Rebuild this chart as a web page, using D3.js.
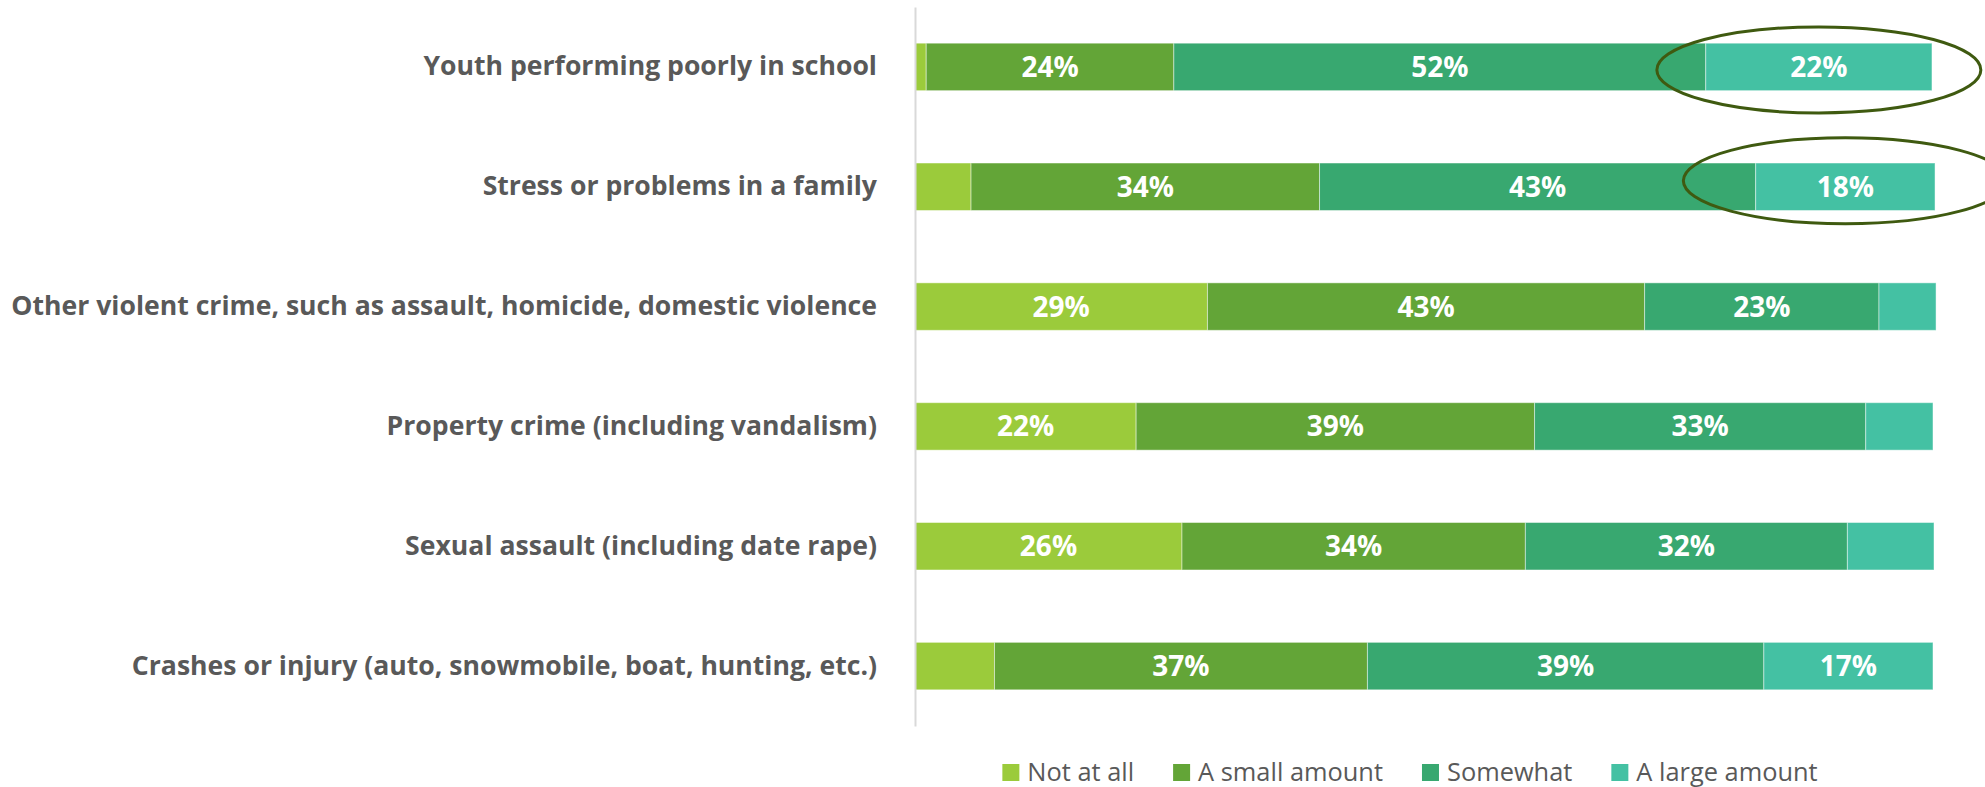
<!DOCTYPE html>
<html>
<head>
<meta charset="utf-8">
<script src="https://cdn.jsdelivr.net/npm/d3@7"></script>
<style>
  body { margin: 0; background: #fff; }
  svg { display: block; }
</style>
</head>
<body>
<div id="chart"></div>
<script>
// categories, top to bottom
var categories = [
  "Youth performing poorly in school",
  "Stress or problems in a family",
  "Other violent crime, such as assault, homicide, domestic violence",
  "Property crime (including vandalism)",
  "Sexual assault (including date rape)",
  "Crashes or injury (auto, snowmobile, boat, hunting, etc.)"
];

var seriesNames = ["Not at all", "A small amount", "Somewhat", "A large amount"];

// percent values
var notAtAll    = [1.1, 5.5, 28.7, 21.7, 26.2, 7.8];
var smallAmount = [24.3, 34.2, 42.9, 39.1, 33.7, 36.6];
var somewhat    = [52.2, 42.8, 23.0, 32.5, 31.6, 38.9];
var largeAmount = [22.2, 17.6, 5.6, 6.6, 8.5, 16.6];

var colors = ["#9bcb3b", "#63a537", "#38a870", "#44c1a3"];

// rows that get an ellipse around the "A large amount" segment
var highlights = [
  { row: 0, series: "A large amount", dy: 3 },
  { row: 1, series: "A large amount", dy: -6 }
];

var width = 1985;
var height = 787;

var svg = d3.select("#chart")
    .append("svg")
    .attr("width", width)
    .attr("height", height);

// build rows for the stack
var rows = categories.map(function(c, i) {
  return {
    category: c,
    "Not at all": notAtAll[i],
    "A small amount": smallAmount[i],
    "Somewhat": somewhat[i],
    "A large amount": largeAmount[i]
  };
});

var stacked = d3.stack().keys(seriesNames)(rows);

var x = d3.scaleLinear()
    .domain([0, 100])
    .range([915, 1934]);

var y = d3.scaleBand()
    .domain(categories)
    .range([7, 726])
    .paddingInner(0.604)
    .paddingOuter(0.302);

var color = d3.scaleOrdinal()
    .domain(seriesNames)
    .range(colors);

// bars
var layers = svg.append("g")
  .selectAll("g")
  .data(stacked)
  .enter()
  .append("g")
  .attr("fill", function(d) { return color(d.key); });

layers.selectAll("rect")
  .data(function(d) { return d; })
  .enter()
  .append("rect")
  .attr("x", function(d) { return x(d[0]); })
  .attr("y", function(d) { return y(d.data.category); })
  .attr("width", function(d) { return x(d[1]) - x(d[0]); })
  .attr("height", y.bandwidth())
  .attr("stroke", "#ffffff")
  .attr("stroke-opacity", 0.45)
  .attr("stroke-width", 1);

// value labels (only for the wider segments)
layers.selectAll("text")
  .data(function(d) { return d.filter(function(s) { return s[1] - s[0] >= 10; }); })
  .enter()
  .append("text")
  .attr("x", function(d) { return (x(d[0]) + x(d[1])) / 2; })
  .attr("y", function(d) { return y(d.data.category) + y.bandwidth() / 2; })
  .attr("dy", "0.36em")
  .attr("text-anchor", "middle")
  .attr("fill", "#ffffff")
  .attr("font-family", "'Open Sans', sans-serif")
  .attr("font-weight", "bold")
  .attr("font-size", "28px")
  .text(function(d) { return Math.round(d[1] - d[0]) + "%"; });

// category axis
var yAxis = svg.append("g")
  .attr("transform", "translate(" + x(0) + ",0)")
  .call(d3.axisLeft(y).tickSize(0).tickPadding(38));

yAxis.select(".domain")
  .attr("stroke", "#d9d9d9")
  .attr("stroke-width", 2);

yAxis.selectAll("text")
  .attr("fill", "#595959")
  .attr("font-family", "'Open Sans', sans-serif")
  .attr("font-weight", "bold")
  .attr("font-size", "26.6px");

// ellipses
svg.append("g")
  .selectAll("ellipse")
  .data(highlights)
  .enter()
  .append("ellipse")
  .attr("cx", function(d) {
    var seg = stacked[seriesNames.indexOf(d.series)][d.row];
    return (x(seg[0]) + x(seg[1])) / 2;
  })
  .attr("cy", function(d) { return y(categories[d.row]) + y.bandwidth() / 2 + d.dy; })
  .attr("rx", 162)
  .attr("ry", 43)
  .attr("fill", "none")
  .attr("stroke", "#3f5a10")
  .attr("stroke-width", 3);

// legend
var legend = svg.append("g");
var offset = 0;
seriesNames.forEach(function(name) {
  var item = legend.append("g").attr("transform", "translate(" + offset + ",0)");
  item.append("rect")
    .attr("x", 0)
    .attr("y", -17)
    .attr("width", 17)
    .attr("height", 17)
    .attr("fill", color(name));
  var t = item.append("text")
    .attr("x", 25)
    .attr("y", 0)
    .attr("fill", "#595959")
    .attr("font-family", "'Open Sans', sans-serif")
    .attr("font-size", "25.4px")
    .text(name);
  offset += 25 + t.node().getComputedTextLength() + 39;
});
var legendWidth = offset - 39;
legend.attr("transform", "translate(" + (1410 - legendWidth / 2) + ",781)");
</script>
</body>
</html>
